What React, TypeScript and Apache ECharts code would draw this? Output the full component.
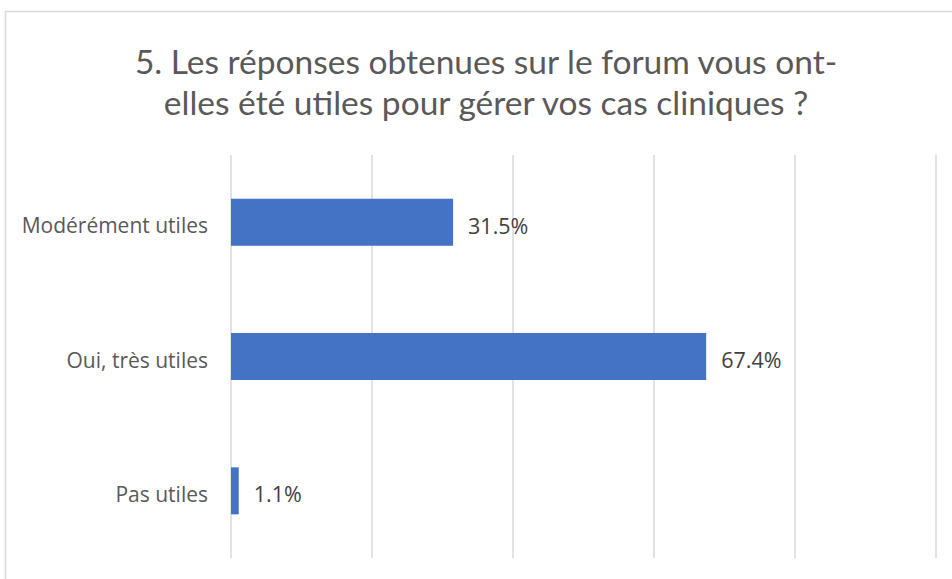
import React, { useEffect, useRef } from "react";
import * as echarts from "echarts";

const titleLines = [
  "5. Les réponses obtenues sur le forum vous ont-",
  "elles été utiles pour gérer vos cas cliniques ?",
];
const categories = ["Modérément utiles", "Oui, très utiles", "Pas utiles"];
const values = [31.5, 67.4, 1.1];
const axisMax = 100;
const axisInterval = 20;

export default function App() {
  const ref = useRef<HTMLDivElement>(null);
  useEffect(() => {
    if (!ref.current) return;
    const chart = echarts.init(ref.current, undefined, { renderer: "svg" });
    chart.setOption({
      animation: false,
      backgroundColor: "#ffffff",
      textStyle: { fontFamily: "Open Sans" },
      title: {
        text: titleLines.join("\n"),
        left: 481,
        top: 35,
        textAlign: "center",
        textStyle: {
          fontFamily: "Lato",
          fontSize: 33.5,
          fontWeight: "normal",
          color: "#595959",
          lineHeight: 41,
        },
      },
      graphic: [
        {
          type: "rect",
          shape: { x: 5.5, y: 11.5, width: 980, height: 620 },
          style: { fill: "none", stroke: "#d9d9d9", lineWidth: 1.5 },
          silent: true,
          z: -10,
        },
      ],
      grid: { left: 231, right: 16, top: 155, bottom: 21, containLabel: false },
      xAxis: {
        type: "value",
        min: 0,
        max: axisMax,
        interval: axisInterval,
        axisLabel: { show: false },
        axisLine: { show: false },
        axisTick: { show: false },
        splitLine: { show: true, lineStyle: { color: "#d9d9d9", width: 1.5 } },
      },
      yAxis: {
        type: "category",
        data: categories,
        inverse: true,
        axisLine: { show: false },
        axisTick: { show: false },
        axisLabel: {
          margin: 23,
          fontSize: 21,
          color: "#595959",
          fontFamily: "Open Sans",
          formatter: (v: string) => `{c|${v}}`,
          rich: {
            c: {
              fontSize: 21,
              color: "#595959",
              fontFamily: "Open Sans",
              padding: [6, 0, 0, 0],
            },
          },
        },
      },
      series: [
        {
          type: "bar",
          data: values,
          barWidth: 47,
          itemStyle: { color: "#4472C4" },
          label: {
            show: true,
            position: "right",
            distance: 15,
            offset: [0, 3],
            fontSize: 21.5,
            color: "#404040",
            fontFamily: "Open Sans",
            formatter: (p: any) => `${Number(p.value).toFixed(1)}%`,
          },
        },
      ],
    });
    return () => chart.dispose();
  }, []);
  return (
    <div
      ref={ref}
      style={{ position: "fixed", left: 0, top: 0, width: 952, height: 579 }}
    />
  );
}
